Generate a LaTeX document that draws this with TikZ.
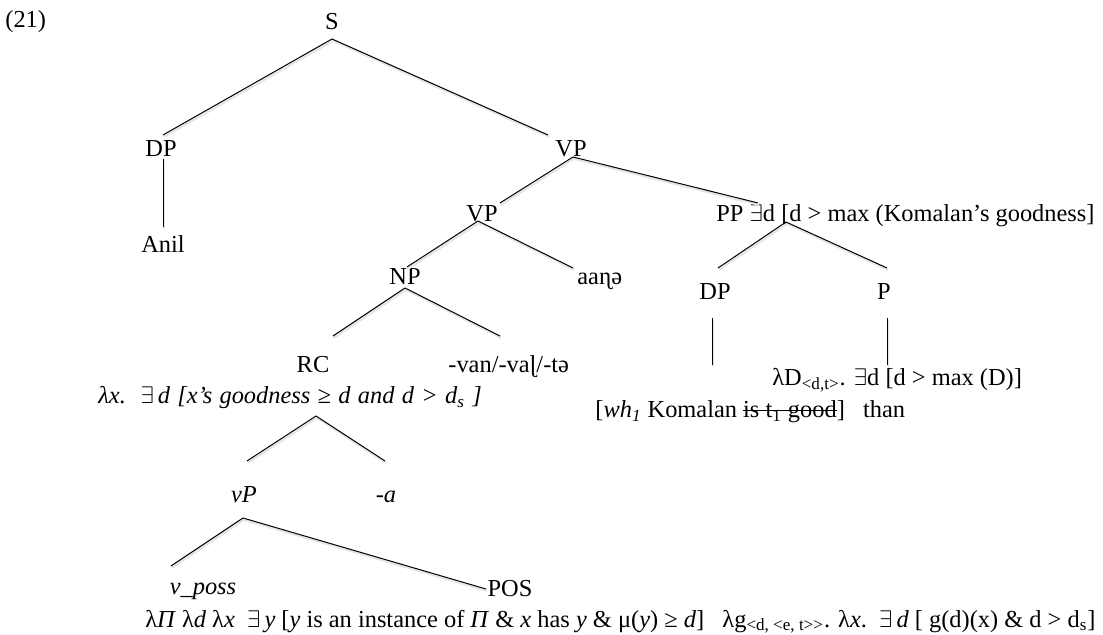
\documentclass[tikz,border=0pt]{standalone}
\usepackage{fontspec}
\setmainfont{Liberation Serif}
\newcommand\mystrike[1]{\begingroup\setbox0\hbox{#1}\rlap{\rule[0.3em]{\wd0}{0.45pt}}\box0\endgroup}
\begin{document}
\begin{tikzpicture}[x=0.5pt,y=-0.5pt,
  lbl/.style={inner sep=0pt, anchor=base, font=\fontsize{12.2pt}{14pt}\selectfont},
  lbw/.style={inner sep=0pt, anchor=base west, font=\fontsize{12.2pt}{14pt}\selectfont},
  lbe/.style={inner sep=0pt, anchor=base east, font=\fontsize{12.2pt}{14pt}\selectfont},
  branch/.style={line width=0.5pt, black,
    preaction={draw=black!10, line width=1.1pt, transform canvas={shift={(0.5pt,-0.9pt)}}}}]
\useasboundingbox (0,0) rectangle (1103,635);
% labels
\node[lbw] (ex) at (5,28) {(21)};
\node[lbl] (S) at (332,30) {S};
\node[lbl] (DP) at (161,157) {DP};
\node[lbl] (VP) at (571,157) {VP};
\node[lbl] (Anil) at (163,253) {Anil};
\node[lbl] (VPb) at (482,222) {VP};
\node[lbw] (PP) at (716,222) {PP $\exists$d [d {>} max (Komalan’s goodness]};
\node[lbl] (NP) at (405,285) {NP};
\node[lbw] (aan) at (577,285) {aaɳə};
\node[lbl] (DPb) at (715,300) {DP};
\node[lbl] (P) at (884,300) {P};
\node[lbl] (RC) at (313,373) {RC};
\node[lbw] (van) at (448,373) {-van/-vaɭ/-tə};
\node[lbw] (RCsem) at (98,404) {\spaceskip=0.3em\itshape λx.\ \ $\exists$\,d [x’s goodness ≥ d and d {>} d\textsubscript{s} ]};
\node[lbw] (Psem) at (772,386) {λD\textsubscript{<d,t>}. $\exists$d [d {>} max (D)]};
\node[lbw] (DPsem) at (595,418) {[\textit{wh\textsubscript{1}} Komalan \mystrike{is t\textsubscript{1} good}]\ \ \ than};
\node[lbl] (vP) at (244,503) {\itshape vP};
\node[lbl] (a) at (386,503) {\itshape -a};
\node[lbl] (vposs) at (203,595) {\itshape v\_poss};
\node[lbl] (POS) at (510,597) {POS};
\node[lbe] (bot) at (1096,627) {λ\textit{Π} λ\textit{d} λ\textit{x}\ \ $\exists$\,\textit{y} [\textit{y} is an instance of \textit{Π} \& \textit{x} has \textit{y} \& μ(\textit{y}) ≥ \textit{d}]\ \ \ λg\textsubscript{<d, <e, t{>}{>}}. λ\textit{x}.\ \ $\exists$\,\textit{d} [ g(d)(x) \& d {>} d\textsubscript{s}]};
% junction points
\coordinate (S-b) at (332,39);
\coordinate (DP-t) at (163,135);
\coordinate (VP-t) at (548,135);
\coordinate (DP-b) at (163,159);
\coordinate (Anil-t) at (163,227);
\coordinate (VP-b) at (573,157);
\coordinate (VPb-t) at (500,203);
\coordinate (PP-t) at (758,203);
\coordinate (VPb-b) at (478,221);
\coordinate (NP-t) at (407,267);
\coordinate (aan-t) at (573,268);
\coordinate (PP-b) at (786,222);
\coordinate (DPb-t) at (718,268);
\coordinate (P-t) at (887,268);
\coordinate (DPb-b) at (712,318);
\coordinate (DPsem-t) at (712,365);
\coordinate (P-b) at (887,318);
\coordinate (Psem-t) at (887,365);
\coordinate (NP-b) at (405,288);
\coordinate (RC-t) at (333,336);
\coordinate (van-t) at (500,336);
\coordinate (RCsem-b) at (316,416);
\coordinate (vP-t) at (247,461);
\coordinate (a-t) at (385,461);
\coordinate (vP-b) at (243,518);
\coordinate (vposs-t) at (171,566);
\coordinate (POS-t) at (486,589);
% branches
\draw[branch] (S-b) -- (DP-t);
\draw[branch] (S-b) -- (VP-t);
\draw[branch] (DP-b) -- (Anil-t);
\draw[branch] (VP-b) -- (VPb-t);
\draw[branch] (VP-b) -- (PP-t);
\draw[branch] (VPb-b) -- (NP-t);
\draw[branch] (VPb-b) -- (aan-t);
\draw[branch] (PP-b) -- (DPb-t);
\draw[branch] (PP-b) -- (P-t);
\draw[branch] (DPb-b) -- (DPsem-t);
\draw[branch] (P-b) -- (Psem-t);
\draw[branch] (NP-b) -- (RC-t);
\draw[branch] (NP-b) -- (van-t);
\draw[branch] (RCsem-b) -- (vP-t);
\draw[branch] (RCsem-b) -- (a-t);
\draw[branch] (vP-b) -- (vposs-t);
\draw[branch] (vP-b) -- (POS-t);
\end{tikzpicture}
\end{document}
